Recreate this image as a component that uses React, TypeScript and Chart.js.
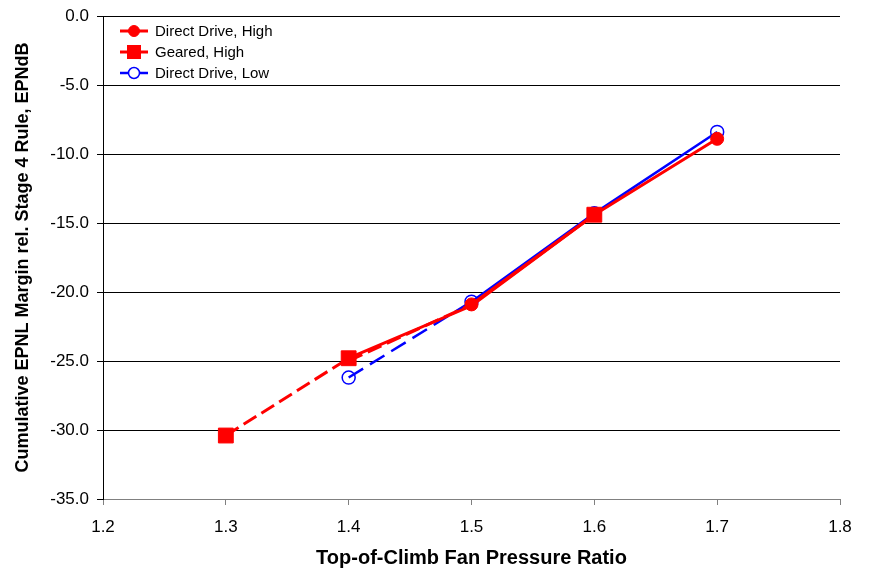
import React, { useEffect, useRef } from "react";
import { Chart, registerables } from "chart.js";

Chart.register(...registerables);

const ddHighX = [1.4, 1.5, 1.6, 1.7];
const ddHighY = [-25.0, -20.9, -14.4, -8.9];
const gearedX = [1.3, 1.4, 1.5, 1.6];
const gearedY = [-30.4, -24.8, -21.0, -14.4];
const ddLowX = [1.4, 1.5, 1.6, 1.7];
const ddLowY = [-26.2, -20.7, -14.3, -8.4];
const seriesNames = ["Direct Drive, High", "Geared, High", "Direct Drive, Low"];
const xTitle = "Top-of-Climb Fan Pressure Ratio";
const yTitle = "Cumulative EPNL Margin rel. Stage 4 Rule, EPNdB";

const FONT = "'Liberation Sans', Arial, sans-serif";

const pts = (xs: number[], ys: number[]) => xs.map((x, i) => ({ x, y: ys[i] }));

const legendPlugin = {
  id: "customLegend",
  afterDraw(chart: any) {
    const { ctx, chartArea } = chart;
    ctx.save();
    chart.data.datasets.forEach((ds: any, i: number) => {
      const y = chartArea.top + 15 + i * 21;
      const x0 = chartArea.left + 17;
      const x1 = chartArea.left + 45;
      const cx = (x0 + x1) / 2;
      ctx.strokeStyle = ds.borderColor;
      ctx.lineWidth = ds.borderWidth;
      ctx.setLineDash([]);
      ctx.beginPath();
      ctx.moveTo(x0, y);
      ctx.lineTo(x1, y);
      ctx.stroke();
      ctx.lineWidth = ds.pointBorderWidth;
      if (ds.pointStyle === "rect") {
        ctx.fillStyle = ds.pointBackgroundColor;
        ctx.fillRect(cx - 7, y - 7, 14, 14);
      } else {
        ctx.beginPath();
        ctx.arc(cx, y, 5.5, 0, Math.PI * 2);
        ctx.fillStyle = ds.pointBackgroundColor !== "transparent" ? ds.pointBackgroundColor : "#fff";
        ctx.fill();
        ctx.strokeStyle = ds.pointBorderColor;
        ctx.stroke();
      }
      ctx.fillStyle = "#000";
      ctx.font = `15px ${FONT}`;
      ctx.textBaseline = "middle";
      ctx.textAlign = "left";
      ctx.fillText(seriesNames[i], x1 + 7, y + 1);
    });
    ctx.restore();
  },
};

export default function App() {
  const ref = useRef<HTMLCanvasElement>(null);
  useEffect(() => {
    if (!ref.current) return;
    const firstDashed = (dash: number[]) => ({
      borderDash: (c: any) => (c.p0DataIndex === 0 ? dash : undefined),
    });
    const chart = new Chart(ref.current, {
      type: "scatter",
      data: {
        datasets: [
          {
            label: seriesNames[0],
            data: pts(ddHighX, ddHighY),
            showLine: true,
            borderColor: "#ff0000",
            backgroundColor: "#ff0000",
            pointBackgroundColor: "#ff0000",
            pointBorderColor: "#ff0000",
            pointBorderWidth: 1,
            borderWidth: 3,
            pointStyle: "circle",
            pointRadius: [0, 6.5, 6.5, 6.5],
            segment: firstDashed([15, 6]),
          },
          {
            label: seriesNames[1],
            data: pts(gearedX, gearedY),
            showLine: true,
            borderColor: "#ff0000",
            backgroundColor: "#ff0000",
            pointBackgroundColor: "#ff0000",
            pointBorderColor: "#ff0000",
            pointBorderWidth: 1,
            borderWidth: 3,
            pointStyle: "rect",
            pointRadius: [10.5, 10.5, 0, 10.5],
            segment: firstDashed([15, 6]),
          },
          {
            label: seriesNames[2],
            data: pts(ddLowX, ddLowY),
            showLine: true,
            borderColor: "#0000ff",
            backgroundColor: "transparent",
            pointBackgroundColor: "transparent",
            pointBorderColor: "#0000ff",
            pointBorderWidth: 1.5,
            borderWidth: 2.5,
            pointStyle: "circle",
            pointRadius: 6.5,
            segment: firstDashed([17, 8]),
          },
        ],
      },
      options: {
        responsive: false,
        animation: false,
        layout: { padding: { left: 12, top: 16, right: 35, bottom: 0 } },
        plugins: {
          legend: { display: false },
          tooltip: { enabled: false },
        },
        scales: {
          x: {
            type: "linear",
            min: 1.2,
            max: 1.8,
            afterFit: (s: any) => {
              s.height = 72;
            },
            ticks: {
              stepSize: 0.1,
              color: "#000",
              font: { family: FONT, size: 17 },
              padding: 12,
              callback: (v: any) => Number(v).toFixed(1),
            },
            grid: {
              drawOnChartArea: false,
              drawTicks: true,
              tickLength: 6,
              color: "#808080",
            },
            border: { color: "#808080", width: 1 },
            title: {
              display: true,
              text: xTitle,
              color: "#000",
              font: { family: FONT, size: 20, weight: "bold" },
              padding: { top: 2, bottom: 1 },
            },
          },
          y: {
            min: -35,
            max: 0,
            afterFit: (s: any) => {
              s.width = 91;
              s.paddingTop = 0;
              s.paddingBottom = 0;
            },
            ticks: {
              stepSize: 5,
              color: "#000",
              font: { family: FONT, size: 17 },
              padding: 8,
              callback: (v: any) => Number(v).toFixed(1),
            },
            grid: {
              drawOnChartArea: true,
              drawTicks: true,
              tickLength: 6,
              color: "#000",
              lineWidth: 1,
            },
            border: { color: "#000", width: 1 },
            title: {
              display: true,
              text: yTitle,
              color: "#000",
              font: { family: FONT, size: 18, weight: "bold" },
              padding: { top: 0, bottom: 4 },
            },
          },
        },
      },
      plugins: [legendPlugin],
    } as any);
    return () => chart.destroy();
  }, []);
  return (
    <div style={{ position: "absolute", left: 0, top: 0, width: 875, height: 571, background: "#fff" }}>
      <canvas ref={ref} width={875} height={571} />
    </div>
  );
}
